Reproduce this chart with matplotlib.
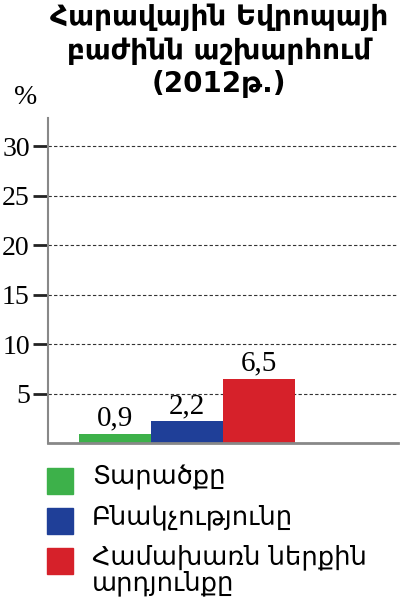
import matplotlib
matplotlib.use("Agg")
import matplotlib.pyplot as plt
from matplotlib.patches import Rectangle

# Данные
labels = ["Տարածքը", "Բնակչությունը", "Համախառն ներքին\nարդյունքը"]
values = [0.9, 2.2, 6.5]
value_text = ["0,9", "2,2", "6,5"]
colors = ["#3db14a", "#1f3f98", "#d6212a"]
yticks = [5, 10, 15, 20, 25, 30]

title = "Հարավային Եվրոպայի\nբաժինն աշխարհում\n(2012թ.)"

fig = plt.figure(figsize=(4.06, 6.13), dpi=100)
ax = fig.add_axes([0.118, 0.277, 0.862, 0.53])

bars = ax.bar(range(len(values)), values, width=1.0, color=colors)
for b, t in zip(bars, value_text):
    ax.text(b.get_x() + b.get_width() / 2, b.get_height() + 0.25, t,
            ha="center", va="bottom", fontsize=21, family="Liberation Serif")

ax.set_xlim(-0.93, 3.93)
ax.set_ylim(0, 32.8)
ax.set_yticks(yticks)
ax.set_yticklabels([str(v) for v in yticks], family="Liberation Serif", fontsize=20)
ax.set_xticks([])
ax.tick_params(axis="y", direction="out", length=10.5, width=2, color="#222222", pad=2.5)
ax.grid(axis="y", linestyle=(0, (3, 2)), color="#333333", linewidth=0.8)
ax.set_axisbelow(True)

for s in ["top", "right"]:
    ax.spines[s].set_visible(False)
ax.spines["left"].set_color("#888888")
ax.spines["bottom"].set_color("#888888")
ax.spines["left"].set_linewidth(1.5)
ax.spines["bottom"].set_linewidth(2)

fig.text(26 / 406, 1 - 97 / 613, "%", family="Liberation Serif", fontsize=20,
         ha="center", va="center")
fig.text(0.54, 0.995, title, ha="center", va="top", fontsize=20, fontweight="bold",
         family="DejaVu Sans", linespacing=1.25)

# Легенда
W, H = 406, 613
for i, (lab, c) in enumerate(zip(labels, colors)):
    y0 = 468 + 40 * i
    fig.patches.append(Rectangle((47 / W, 1 - (y0 + 26) / H), 26 / W, 26 / H,
                                 transform=fig.transFigure, color=c, figure=fig))
    fig.text(92 / W, 1 - (y0 - 4) / H, lab, ha="left", va="top", fontsize=18.5,
             family="DejaVu Sans", linespacing=1.0)

fig.savefig("out.png", dpi=100)
